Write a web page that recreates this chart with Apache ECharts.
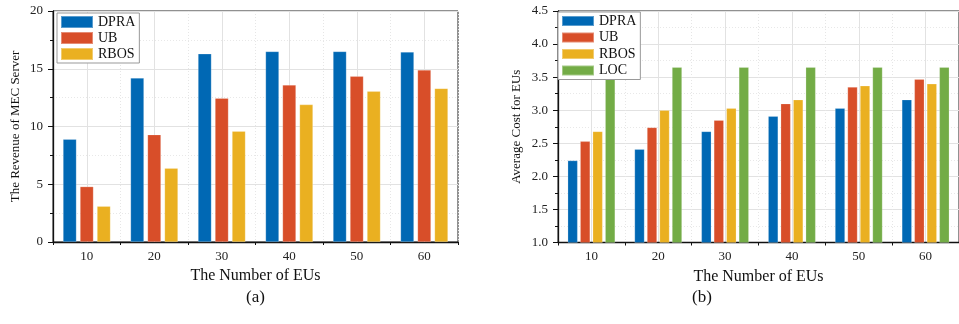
<!DOCTYPE html>
<html>
<head>
<meta charset="utf-8">
<script src="https://cdn.jsdelivr.net/npm/echarts@6/dist/echarts.min.js"></script>
<style>html,body{margin:0;padding:0;background:#fff;}#c{width:959px;height:324px;}</style>
</head>
<body>
<div id="c"></div>
<script>
// ---- data ----
const categories = ['10', '20', '30', '40', '50', '60'];
const revenueDPRA = [8.9, 14.2, 16.3, 16.5, 16.5, 16.45];
const revenueUB   = [4.8, 9.3, 12.45, 13.6, 14.35, 14.9];
const revenueRBOS = [3.1, 6.4, 9.6, 11.9, 13.05, 13.3];
const costDPRA = [2.24, 2.41, 2.68, 2.91, 3.03, 3.16];
const costUB   = [2.53, 2.74, 2.85, 3.10, 3.35, 3.47];
const costRBOS = [2.68, 3.00, 3.03, 3.16, 3.37, 3.40];
const costLOC  = [3.65, 3.65, 3.65, 3.65, 3.65, 3.65];
const xTitle = 'The Number of EUs';
const yTitleA = 'The Revenue of MEC Server';
const yTitleB = 'Average Cost for EUs';

const colors = { DPRA: '#0068B4', UB: '#D84E29', RBOS: '#EAB021', LOC: '#73AC46' };
const FONT = '"Liberation Serif", "DejaVu Serif", serif';

const chart = echarts.init(document.getElementById('c'), null, { renderer: 'canvas' });

function catAxis(gi) {
  return {
    type: 'category', gridIndex: gi, data: categories,
    boundaryGap: true,
    name: xTitle, nameLocation: 'middle', nameGap: 21,
    nameTextStyle: { fontFamily: FONT, fontSize: 16, color: '#111' },
    axisLine: { lineStyle: { color: '#111', width: 1.3 } },
    axisTick: { show: true, inside: false, length: 3, lineStyle: { color: '#111' } },
    axisLabel: { fontFamily: FONT, fontSize: 13, color: '#222', margin: 8 },
    splitLine: { show: true, lineStyle: { color: '#e6e6e6', type: [1, 2], width: 1 } }
  };
}
function centerLineAxis(gi) {
  return {
    type: 'value', gridIndex: gi, min: 5, max: 65, interval: 5, show: true,
    axisLine: { show: false }, axisTick: { show: false }, axisLabel: { show: false },
    splitLine: { show: true, lineStyle: { color: ['rgba(0,0,0,0)', '#e2e2e2'], width: 1 } }
  };
}
function valAxis(gi, min, max, interval, name, gap, fmt) {
  return {
    type: 'value', gridIndex: gi, min: min, max: max, interval: interval,
    name: name, nameLocation: 'middle', nameGap: gap,
    nameTextStyle: { fontFamily: FONT, fontSize: 13, color: '#111' },
    axisLine: { show: true, lineStyle: { color: '#111', width: 1.3 } },
    axisTick: { show: true, inside: false, length: 5, lineStyle: { color: '#111' } },
    minorTick: { show: true, splitNumber: 2, length: 3, lineStyle: { color: '#111' } },
    axisLabel: { fontFamily: FONT, fontSize: 13, color: '#222', margin: 10, formatter: fmt },
    splitLine: { show: true, lineStyle: { color: '#e2e2e2', width: 1 } },
    minorSplitLine: { show: true, lineStyle: { color: '#e8e8e8', type: [1, 2], width: 1 } }
  };
}
function bar(name, data, xi, yi, w, gap) {
  return {
    type: 'bar', name: name, data: data, xAxisIndex: xi, yAxisIndex: yi,
    barWidth: w, barGap: gap,
    itemStyle: { color: colors[name], borderColor: 'rgba(255,255,255,0.35)', borderWidth: 0.6 }
  };
}
const legendText = { fontFamily: FONT, fontSize: 14, color: '#111' };

chart.setOption({
  animation: false,
  grid: [
    { left: 53, top: 11, width: 405, height: 231, show: true, borderColor: '#222', borderWidth: 1, backgroundColor: '#fff' },
    { left: 558, top: 11, width: 403, height: 231.5, show: true, borderColor: '#222', borderWidth: 1, backgroundColor: '#fff' }
  ],
  xAxis: [catAxis(0), catAxis(1), centerLineAxis(0), centerLineAxis(1)],
  yAxis: [
    valAxis(0, 0, 20, 5, yTitleA, 31, null),
    valAxis(1, 1, 4.5, 0.5, yTitleB, 35, v => v.toFixed(1))
  ],
  legend: [
    {
      data: ['DPRA', 'UB', 'RBOS'], orient: 'vertical', left: 57, top: 13,
      icon: 'rect', itemWidth: 32, itemHeight: 12, itemGap: 2,
      padding: [2, 4, 2, 3], borderColor: '#999', borderWidth: 1, backgroundColor: '#fff',
      textStyle: Object.assign({ lineHeight: 12 }, legendText), selectedMode: false
    },
    {
      data: ['DPRA', 'UB', 'RBOS', 'LOC'], orient: 'vertical', left: 558, top: 12,
      icon: 'rect', itemWidth: 32, itemHeight: 10, itemGap: 2.5,
      padding: [2, 4, 2, 3], borderColor: '#999', borderWidth: 1, backgroundColor: '#fff',
      textStyle: Object.assign({ lineHeight: 10 }, legendText), selectedMode: false
    }
  ],
  series: [
    bar('DPRA', revenueDPRA, 0, 0, 13.5, '26%'),
    bar('UB', revenueUB, 0, 0, 13.5, '26%'),
    bar('RBOS', revenueRBOS, 0, 0, 13.5, '26%'),
    bar('DPRA', costDPRA, 1, 1, 10, '25%'),
    bar('UB', costUB, 1, 1, 10, '25%'),
    bar('RBOS', costRBOS, 1, 1, 10, '25%'),
    bar('LOC', costLOC, 1, 1, 10, '25%')
  ],
  graphic: [
    { type: 'text', left: 246, top: 289, style: { text: '(a)', font: '17px ' + FONT, fill: '#111' } },
    { type: 'text', left: 692, top: 289, style: { text: '(b)', font: '17px ' + FONT, fill: '#111' } }
  ]
});
</script>
</body>
</html>
